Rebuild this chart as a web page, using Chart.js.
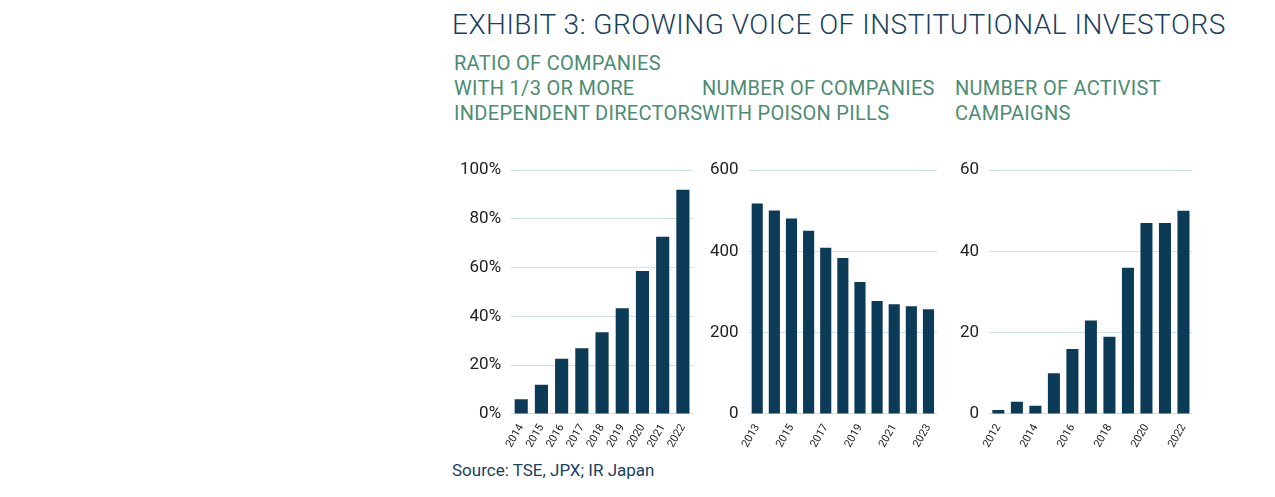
<!DOCTYPE html>
<html><head><meta charset="utf-8">
<script src="https://cdn.jsdelivr.net/npm/chart.js@4"></script>
<style>
body{margin:0;width:1275px;height:497px;background:#fff;position:relative;font-family:Roboto,sans-serif;overflow:hidden}
.t{position:absolute;left:452px;top:8px;font-size:28px;color:#1b3f5e;font-weight:300;letter-spacing:0.5px}
.s{position:absolute;font-size:20px;color:#4c8c72;line-height:25px;letter-spacing:0.3px}
.c{position:absolute;top:150px;height:300px}
.src{position:absolute;left:452px;top:460px;font-size:17px;color:#1b3f5e}
</style></head><body>
<div class="t">EXHIBIT 3: GROWING VOICE OF INSTITUTIONAL INVESTORS</div>
<div class="s" style="left:454px;top:51px">RATIO OF COMPANIES<br>WITH 1/3 OR MORE<br>INDEPENDENT DIRECTORS</div>
<div class="s" style="left:702px;top:76px">NUMBER OF COMPANIES<br>WITH POISON PILLS</div>
<div class="s" style="left:955px;top:76px">NUMBER OF ACTIVIST<br>CAMPAIGNS</div>
<div class="c" style="left:450px;width:245px"><canvas id="c1"></canvas></div>
<div class="c" style="left:700px;width:240px"><canvas id="c2"></canvas></div>
<div class="c" style="left:950px;width:245px"><canvas id="c3"></canvas></div>
<div class="src">Source: TSE, JPX; IR Japan</div>
<script>
const yearsDirectors = ['2014','2015','2016','2017','2018','2019','2020','2021','2022'];
const ratioDirectors = [6, 12, 22.7, 27, 33.5, 43.4, 58.7, 72.7, 92];
const yearsPills = ['2013','2014','2015','2016','2017','2018','2019','2020','2021','2022','2023'];
const poisonPills = [518, 501, 481, 451, 409, 384, 325, 278, 270, 265, 258];
const yearsActivist = ['2012','2013','2014','2015','2016','2017','2018','2019','2020','2021','2022'];
const activistCampaigns = [1, 3, 2, 10, 16, 23, 19, 36, 47, 47, 50];

function makeChart(id, labels, values, max, step, fmt) {
    new Chart(document.getElementById(id), {
        type: 'bar',
        data: { labels: labels, datasets: [{ data: values, backgroundColor: '#0c3b58', barPercentage: 0.65, categoryPercentage: 1 }] },
        options: {
            responsive: true, maintainAspectRatio: false, animation: false,
            layout: { padding: { top: 4, right: 2 } },
            plugins: { legend: { display: false }, tooltip: { enabled: false } },
            scales: {
                x: {
                    grid: { display: false }, border: { display: false },
                    ticks: { color: '#222', font: { family: 'Roboto', size: 11 }, maxRotation: 60, minRotation: 60, padding: 0 }
                },
                y: {
                    min: 0, max: max,
                    grid: { color: '#cfe2ea', drawTicks: false }, border: { display: false },
                    ticks: { stepSize: step, color: '#222', padding: 10, font: { family: 'Roboto', size: 17 }, callback: fmt }
                }
            }
        }
    });
}
makeChart('c1', yearsDirectors, ratioDirectors, 100, 20, v => v + '%');
makeChart('c2', yearsPills, poisonPills, 600, 200, v => v);
makeChart('c3', yearsActivist, activistCampaigns, 60, 20, v => v);
</script>
</body></html>
